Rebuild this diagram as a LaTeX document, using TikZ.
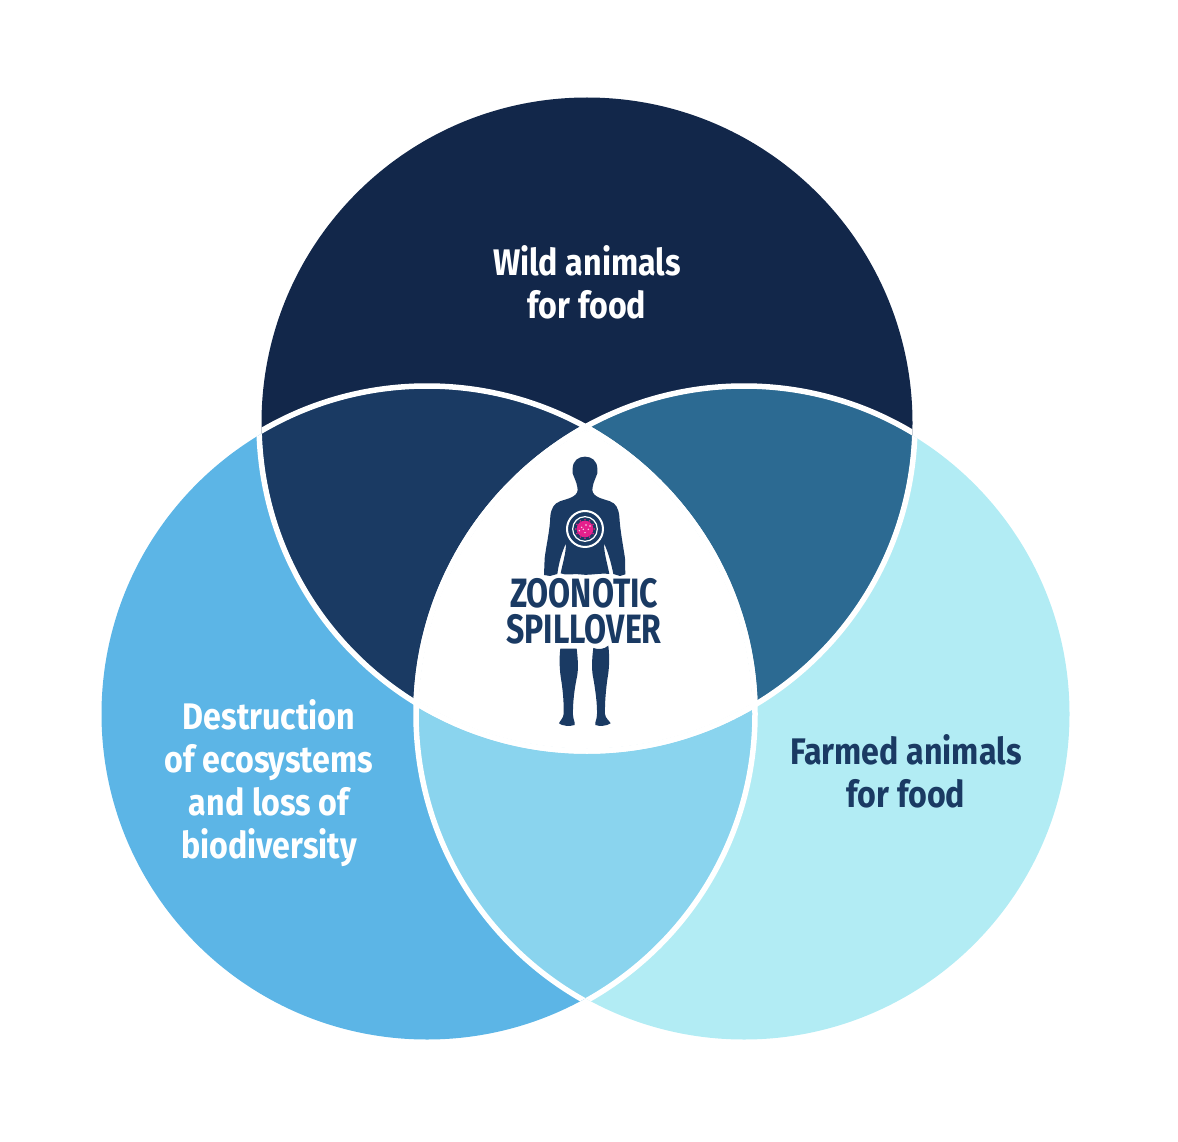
\documentclass[tikz,border=0pt]{standalone}
\usepackage{fontspec}
\newfontfamily\labelfont[FakeStretch=0.87]{Fira Sans Bold}
\newfontfamily\zoofont[FakeStretch=0.78]{Fira Sans Bold}
\definecolor{cTop}{HTML}{12274A}
\definecolor{cLeft}{HTML}{5CB5E6}
\definecolor{cRight}{HTML}{B2ECF4}
\definecolor{cTL}{HTML}{1A3A63}
\definecolor{cTR}{HTML}{2C6A92}
\definecolor{cLR}{HTML}{8AD4EE}
\definecolor{cPink}{HTML}{E6208C}
\begin{document}
\begin{tikzpicture}[x=1pt,y=-1pt,
  vlabel/.style={font=\labelfont\fontsize{37}{43}\selectfont,align=center,inner sep=0pt},
  seam/.style={draw=white,line width=5.5pt},
  body/.style={fill=cTL,draw=none}]
\useasboundingbox (0,0) rectangle (1178,1142);
\def\ctop{(587,423) circle [radius=325.5]}
\def\cleft{(427,714) circle [radius=325.5]}
\def\cright{(744,714) circle [radius=325.5]}
\def\stop{(587,423) circle [radius=328]}
\def\sleft{(427,714) circle [radius=328]}
\def\sright{(744,714) circle [radius=328]}
\fill[cTop] \ctop;
\fill[cLeft] \cleft;
\fill[cRight] \cright;
\begin{scope}\clip \ctop; \fill[cTL] \cleft; \fill[cTR] \cright; \end{scope}
\begin{scope}\clip \cleft; \fill[cLR] \cright; \end{scope}
\begin{scope}\clip \ctop; \clip \cleft; \fill[white] \cright; \end{scope}
% white seams: each outline only where it lies inside another circle
\begin{scope}\clip \cleft; \draw[seam] \stop; \draw[seam] \sright; \end{scope}
\begin{scope}\clip \cright; \draw[seam] \stop; \draw[seam] \sleft; \end{scope}
\begin{scope}\clip \ctop; \draw[seam] \sleft; \draw[seam] \sright; \end{scope}
% human figure (coordinates from a 3x crop)
\begin{scope}[shift={(480,440)},x=0.3333pt,y=-0.3333pt]
\fill[body] (315,50) .. controls (295,50) and (279,62) .. (278,85)
  .. controls (276,95) and (278,105) .. (283,113)
  .. controls (288,125) and (292,135) .. (293,150)
  .. controls (291,172) and (262,176) .. (240,184)
  .. controls (222,190) and (214,205) .. (211,228)
  .. controls (210,270) and (198,320) .. (194,355)
  -- (192,405) -- (210,408) -- (232,402)
  .. controls (236,370) and (246,335) .. (258,310)
  .. controls (258,340) and (248,370) .. (242,400)
  .. controls (260,408) and (280,400) .. (300,403)
  .. controls (325,408) and (360,398) .. (388,402)
  .. controls (382,370) and (372,340) .. (372,310)
  .. controls (384,335) and (394,370) .. (400,402)
  -- (420,408) -- (436,403) -- (435,355)
  .. controls (430,320) and (420,270) .. (418,228)
  .. controls (415,205) and (408,190) .. (390,184)
  .. controls (368,176) and (339,172) .. (337,150)
  .. controls (338,135) and (342,125) .. (347,113)
  .. controls (352,105) and (354,95) .. (352,85)
  .. controls (351,62) and (335,50) .. (315,50) -- cycle;
\fill[body] (241,626) -- (290,626)
  .. controls (294,660) and (296,690) .. (290,715)
  .. controls (283,750) and (278,790) .. (279,825)
  .. controls (280,840) and (286,848) .. (284,855)
  .. controls (270,860) and (245,858) .. (237,850)
  .. controls (240,842) and (250,835) .. (251,822)
  .. controls (252,785) and (248,745) .. (242,710)
  .. controls (238,680) and (238,650) .. (241,626) -- cycle;
\fill[body] (340,624)
  .. controls (355,630) and (372,628) .. (385,617)
  .. controls (389,650) and (388,685) .. (383,712)
  .. controls (378,745) and (374,790) .. (375,822)
  .. controls (376,835) and (388,842) .. (392,850)
  .. controls (380,858) and (358,860) .. (346,855)
  .. controls (344,848) and (350,840) .. (351,825)
  .. controls (352,790) and (346,750) .. (340,715)
  .. controls (334,690) and (336,655) .. (340,624) -- cycle;
% target rings and virus
\draw[white,line width=2pt] (315,267) circle [radius=54];
\draw[white,line width=1.2pt] (315,267) circle [radius=37];
\fill[cPink] (315,267) circle [radius=25];
\foreach \a in {0,30,...,330}{\fill[cPink] (315,267) ++(\a:28) circle [radius=2.6];}
\foreach \p/\q in {305/262,318/255,325/268,315/278,330/258,298/272,310/268}{\fill[white!85!cPink] (\p,\q) circle [radius=2.3];}
\end{scope}
% labels
\node[vlabel,text=white] (wild) at (587,282) {Wild animals\\for food};
\node[vlabel,text=white] (destr) at (269,783) {Destruction\\of ecosystems\\and loss of\\biodiversity};
\node[vlabel,text=cTL] (farm) at (906,771) {Farmed animals\\for food};
\node[vlabel,text=cTL,font=\zoofont\fontsize{41}{36}\selectfont] (zoo) at (584,611) {ZOONOTIC\\SPILLOVER};
\end{tikzpicture}
\end{document}
